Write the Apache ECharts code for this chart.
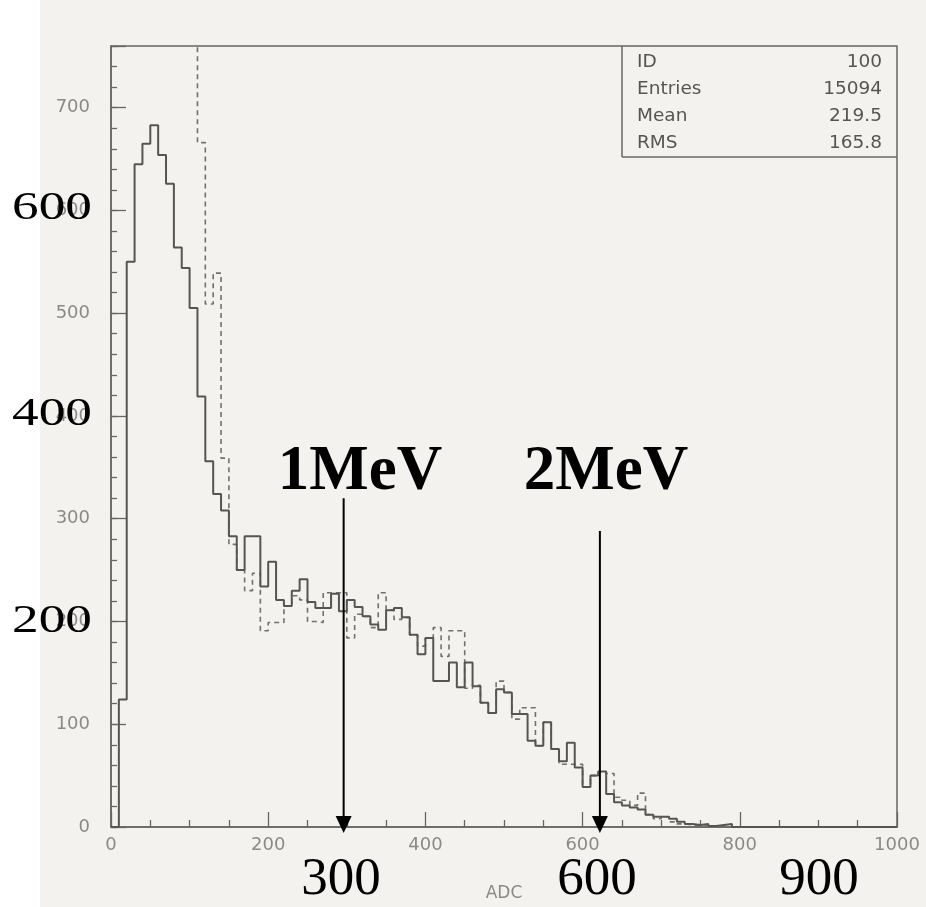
<!DOCTYPE html>
<html><head><meta charset="utf-8">
<script src="https://cdn.jsdelivr.net/npm/echarts@6/dist/echarts.min.js"></script>
<style>html,body{margin:0;padding:0;background:#fff}#c{width:926px;height:907px}</style>
</head><body><div id="c"></div>
<script>
// ---- data ----
const binWidth = 10;
const solidCounts = [
  0,124,550,645,665,683,654,626,564,544,
  505,419,356,324,308,283,250,283,283,234,
  258,221,215,230,241,219,213,213,227,210,
  221,214,205,197,192,211,213,204,187,168,
  184,142,142,160,136,160,137,121,111,134,
  131,110,110,84,79,102,76,64,82,58,
  39,50,54,32,24,21,19,17,12,10,
  10,8,5,3,2,3,1,2,3,0,
  0,0,0,0,0,0,0,0,0,0,
  0,0,0,0,0,0,0,0,0,0
];
const dashedStartBin = 10;
const dashedCounts = [
  900,666,509,539,359,275,250,230,247,191,
  199,199,215,225,221,200,199,228,228,228,
  184,207,205,194,228,211,202,204,187,176,
  184,194,166,191,191,135,138,121,111,142,
  131,105,116,116,79,102,76,61,61,61,
  39,50,54,52,29,26,21,33,12,8,
  10,5,3,2,1,1,1,1,0
];
const yTickLabels = [0,100,200,300,400,500,600,700];
const xTickLabels = [0,200,400,600,800,1000];
const statsLabels = ['ID','Entries','Mean','RMS'];
const statsValues = ['100','15094','219.5','165.8'];
const arrowX = [296, 622];
const arrowTop = [320, 288];
const arrowText = ['1MeV','2MeV'];
const overlayYText = ['600','400','200'];
const overlayXText = ['300','600','900'];

// ---- build ----
const solidPts = solidCounts.map((v,i)=>[i*binWidth, v]);
solidPts.push([solidCounts.length*binWidth, 0]);
const dashedPts = dashedCounts.map((v,i)=>[(dashedStartBin+i)*binWidth, v]);

const axisGray = '#666';
const labelGray = '#8a8a8a';
const G = {left:111, right:29, top:46, bottom:74};
const plotRight = 926 - G.right;

const graphics = [
  {type:'rect', shape:{x:40,y:0,width:886,height:907}, style:{fill:'#f4f2ee'}, z:-10, silent:true},
  {type:'line', shape:{x1:622,y1:G.top,x2:622,y2:157}, style:{stroke:axisGray,lineWidth:1.5}, z:5},
  {type:'line', shape:{x1:622,y1:157,x2:plotRight,y2:157}, style:{stroke:axisGray,lineWidth:1.5}, z:5}
];
const rowY = [62, 89.5, 116.5, 143.5];
statsLabels.forEach((t,i)=>{
  graphics.push({type:'text', x:637, y:rowY[i], z:5, style:{text:t, fontFamily:'DejaVu Sans', fontSize:18.5, fill:'#555', align:'left', verticalAlign:'middle'}});
  graphics.push({type:'text', x:882, y:rowY[i], z:5, style:{text:statsValues[i], fontFamily:'DejaVu Sans', fontSize:18.5, fill:'#555', align:'right', verticalAlign:'middle'}});
});
const oyPos = [208, 414, 621];
overlayYText.forEach((t,i)=>{
  graphics.push({type:'text', x:52, y:oyPos[i], scaleX:1.3, z:100, style:{text:t, fontFamily:'Liberation Serif', fontSize:41, fill:'#000', align:'center', verticalAlign:'middle'}});
});
const oxPos = [341, 597, 819];
overlayXText.forEach((t,i)=>{
  graphics.push({type:'text', x:oxPos[i], y:880, z:100, style:{text:t, fontFamily:'Liberation Serif', fontSize:53, fill:'#000', align:'center', verticalAlign:'middle'}});
});
const atPos = [360, 606];
arrowText.forEach((t,i)=>{
  graphics.push({type:'text', x:atPos[i], y:473, z:100, style:{text:t, fontFamily:'Liberation Serif', fontWeight:'bold', fontSize:63, fill:'#000', align:'center', verticalAlign:'middle'}});
});

const chart = echarts.init(document.getElementById('c'));
chart.setOption({
  animation:false,
  backgroundColor:'#ffffff',
  grid:{left:G.left, right:G.right, top:G.top, bottom:G.bottom, show:true, borderColor:axisGray, borderWidth:1.5, backgroundColor:'transparent'},
  xAxis:{type:'value', min:0, max:1000, interval:200,
    name:'ADC', nameLocation:'middle', nameGap:58,
    nameTextStyle:{fontFamily:'DejaVu Sans', fontSize:17, color:labelGray},
    axisLine:{show:true, lineStyle:{color:axisGray, width:1.5}},
    axisTick:{show:true, inside:true, length:15, lineStyle:{color:axisGray, width:1.3}},
    minorTick:{show:true, splitNumber:4, length:7, lineStyle:{color:axisGray, width:1.3}},
    axisLabel:{margin:9, color:labelGray, fontFamily:'DejaVu Sans', fontSize:18,
      formatter:v=> xTickLabels.indexOf(v)>=0 ? String(v) : ''},
    splitLine:{show:false}},
  yAxis:[
    {type:'value', min:0, max:760, interval:20,
      axisLine:{show:true, lineStyle:{color:axisGray, width:1.5}},
      axisTick:{show:true, inside:true, length:6, lineStyle:{color:axisGray, width:1.3}},
      axisLabel:{margin:21, color:labelGray, fontFamily:'DejaVu Sans', fontSize:18,
        formatter:v=> yTickLabels.indexOf(v)>=0 ? String(v) : ''},
      splitLine:{show:false}},
    {type:'value', min:0, max:760, interval:100, position:'left',
      axisLine:{show:false},
      axisTick:{show:true, inside:true, length:15, lineStyle:{color:axisGray, width:1.3}},
      axisLabel:{show:false}, splitLine:{show:false}}
  ],
  series:[
    {type:'line', name:'solid', data:solidPts, step:'end', symbol:'none', z:3,
      lineStyle:{color:'#555', width:2}},
    {type:'line', name:'dashed', data:dashedPts, step:'end', symbol:'none', z:2,
      lineStyle:{color:'#707070', width:1.6, type:[5,4]}},
    {type:'custom', name:'arrows', clip:false, z:10,
      data: arrowX.map((x,i)=>[x, arrowTop[i]]),
      renderItem:(params, api)=>{
        const top = api.coord([api.value(0), api.value(1)]);
        const base = api.coord([api.value(0), 0]);
        const tip = base[1] + 6, hh = 17, hw = 8;
        return {type:'group', children:[
          {type:'line', shape:{x1:top[0], y1:top[1], x2:top[0], y2:tip-hh+1}, style:{stroke:'#000', lineWidth:2}},
          {type:'polygon', shape:{points:[[top[0]-hw, tip-hh],[top[0]+hw, tip-hh],[top[0], tip]]}, style:{fill:'#000'}}
        ]};
      }}
  ],
  graphic: graphics
});
</script></body></html>
